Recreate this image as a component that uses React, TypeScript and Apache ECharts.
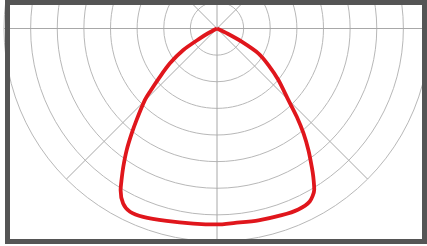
import React, { useEffect, useRef } from "react";
import * as echarts from "echarts";

// Angle from nadir (degrees, negative = left, positive = right)
const angles: number[] = [
  -65, -62, -60, -57.5, -53.5, -49.8, -46.7, -45.2, -41.3, -39.1, -36.6, -34.1, -32.2, -30.8,
  -28.2, -25.4, -21.4, -14.7, -6.9, 0, 5.3, 12.2, 19.1, 24.2, 28.2, 31.1, 33.0, 34.4, 36.9,
  39.5, 42.1, 44.9, 50, 54.6, 59, 61.9, 64, 66,
];
// Intensity (ring units x100)
const intensity: number[] = [
  0, 38, 74, 150, 220, 280, 346, 382, 458, 508, 569, 628, 673, 707,
  746, 762, 760, 747, 738, 736, 733, 737, 742, 745, 737, 707, 664, 630, 572,
  511, 447, 380, 301, 237, 181, 105, 45, 0,
];
const ringMax = 800;
const ringStep = 100;

export default function App() {
  const ref = useRef<HTMLDivElement>(null);
  useEffect(() => {
    if (!ref.current) return;
    const chart = echarts.init(ref.current, undefined, { renderer: "svg" });
    const data = angles.map((a, i) => [intensity[i], 270 + a]);
    chart.setOption({
      animation: false,
      backgroundColor: "#ffffff",
      polar: { center: [217, 28.5], radius: 213 },
      angleAxis: {
        type: "value",
        min: 0,
        max: 360,
        interval: 45,
        startAngle: 0,
        clockwise: false,
        axisLine: { show: false },
        axisTick: { show: false },
        axisLabel: { show: false },
        splitLine: { show: true, lineStyle: { color: "#a8a8a8", width: 1 } },
      },
      radiusAxis: {
        type: "value",
        min: 0,
        max: ringMax,
        interval: ringStep,
        axisLine: { show: false },
        axisTick: { show: false },
        axisLabel: { show: false },
        splitLine: { show: true, lineStyle: { color: "#b8b8b8", width: 1 } },
      },
      series: [
        {
          type: "line",
          coordinateSystem: "polar",
          data,
          smooth: 0.25,
          showSymbol: false,
          symbol: "none",
          lineStyle: { color: "#e0161c", width: 3.8 },
          z: 5,
        },
      ],
      graphic: [
        {
          type: "rect",
          z: 100,
          shape: { x: 7.5, y: 2.5, width: 417, height: 239 },
          style: { fill: "none", stroke: "#555555", lineWidth: 5 },
        },
      ],
    });
    return () => chart.dispose();
  }, []);
  return (
    <div
      ref={ref}
      style={{ position: "absolute", left: 0, top: 0, width: 427, height: 246 }}
    />
  );
}
